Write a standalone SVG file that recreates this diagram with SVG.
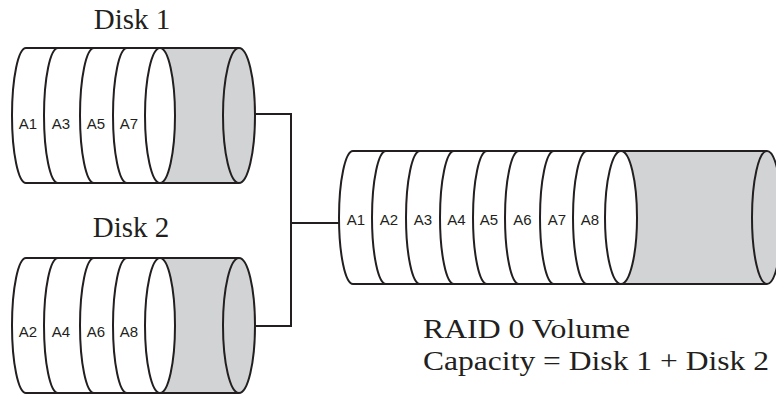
<svg xmlns="http://www.w3.org/2000/svg" width="776" height="394" viewBox="0 0 776 394">
<style>
.o{fill:none;stroke:#231f20;stroke-width:2}
.g{fill:#d1d3d4;stroke:none}
.ge{fill:#d1d3d4;stroke:#231f20;stroke-width:2}
.we{fill:#fff;stroke:#231f20;stroke-width:2}
.lbl{font-family:"Liberation Sans",Arial,sans-serif;font-size:15px;fill:#231f20;text-anchor:middle}
.ttl{font-family:"Liberation Serif","Times New Roman",serif;font-size:29px;fill:#231f20}
.cap{font-family:"Liberation Serif","Times New Roman",serif;font-size:28px;fill:#231f20}
</style>
<rect width="776" height="394" fill="#fff"/>
<g id="disk1">
  <text class="ttl" x="132" y="29" text-anchor="middle">Disk 1</text>
  <rect class="g" x="160" y="48" width="79" height="135"/>
  <ellipse class="ge" cx="239" cy="115.5" rx="16" ry="67.5"/>
  <ellipse class="we" cx="160" cy="115.5" rx="15" ry="67.5"/>
  <path class="o" d="M26,48 H239 M26,183 H239 M26,48 A14 67.5 0 0 0 26,183 M58,48 A14 67.5 0 0 0 58,183 M94,48 A14 67.5 0 0 0 94,183 M127,48 A14 67.5 0 0 0 127,183"/>
  <text class="lbl" x="28" y="129">A1</text>
  <text class="lbl" x="61" y="129">A3</text>
  <text class="lbl" x="96" y="129">A5</text>
  <text class="lbl" x="129" y="129">A7</text>
</g>
<g id="disk2">
  <text class="ttl" x="131" y="237" text-anchor="middle">Disk 2</text>
  <rect class="g" x="160" y="258" width="79" height="135"/>
  <ellipse class="ge" cx="239" cy="325.5" rx="16" ry="67.5"/>
  <ellipse class="we" cx="160" cy="325.5" rx="15" ry="67.5"/>
  <path class="o" d="M26,258 H239 M26,393 H239 M26,258 A14 67.5 0 0 0 26,393 M58,258 A14 67.5 0 0 0 58,393 M94,258 A14 67.5 0 0 0 94,393 M127,258 A14 67.5 0 0 0 127,393"/>
  <text class="lbl" x="28" y="337">A2</text>
  <text class="lbl" x="61" y="337">A4</text>
  <text class="lbl" x="96" y="337">A6</text>
  <text class="lbl" x="129" y="337">A8</text>
</g>
<g id="volume">
  <rect class="g" x="621" y="151" width="146" height="133"/>
  <ellipse class="ge" cx="767" cy="217.5" rx="15" ry="66.5"/>
  <ellipse class="we" cx="621" cy="217.5" rx="16" ry="66.5"/>
  <path class="o" d="M353,151 H767 M353,284 H767 M353,151 A14 66.5 0 0 0 353,284 M386,151 A14 66.5 0 0 0 386,284 M420,151 A14 66.5 0 0 0 420,284 M454,151 A14 66.5 0 0 0 454,284 M487,151 A14 66.5 0 0 0 487,284 M519,151 A14 66.5 0 0 0 519,284 M554,151 A14 66.5 0 0 0 554,284 M587,151 A14 66.5 0 0 0 587,284"/>
  <text class="lbl" x="356" y="225">A1</text>
  <text class="lbl" x="389" y="225">A2</text>
  <text class="lbl" x="423" y="225">A3</text>
  <text class="lbl" x="456.5" y="225">A4</text>
  <text class="lbl" x="489" y="225">A5</text>
  <text class="lbl" x="522.5" y="225">A6</text>
  <text class="lbl" x="557" y="225">A7</text>
  <text class="lbl" x="590" y="225">A8</text>
</g>
<g id="caption">
  <text class="cap" x="423" y="338" textLength="207" lengthAdjust="spacingAndGlyphs">RAID 0 Volume</text>
  <text class="cap" x="423" y="370" textLength="346" lengthAdjust="spacingAndGlyphs">Capacity = Disk 1 + Disk 2</text>
</g>
<g id="connectors">
  <path class="o" d="M255,114 H291 V326 H255 M291,223 H339"/>
</g>
</svg>
